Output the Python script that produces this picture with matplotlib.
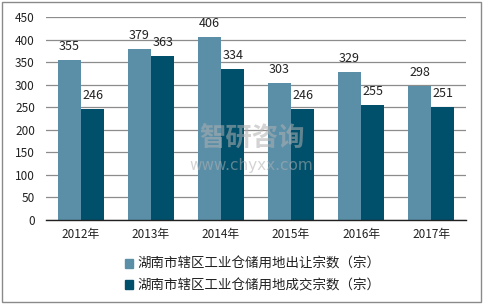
import matplotlib
matplotlib.use("Agg")
import matplotlib.pyplot as plt
from matplotlib.patches import Rectangle
import numpy as np

plt.rcParams['font.family'] = ['Noto Sans CJK SC', 'DejaVu Sans']

years = ['2012年', '2013年', '2014年', '2015年', '2016年', '2017年']
transfer = [355, 379, 406, 303, 329, 298]
deal = [246, 363, 334, 246, 255, 251]
series_names = ['湖南市辖区工业仓储用地出让宗数（宗）', '湖南市辖区工业仓储用地成交宗数（宗）']
c_light = '#5B8FA8'
c_dark = '#00506B'

fig = plt.figure(figsize=(4.84, 3.06), dpi=100)
ax = fig.add_axes([0.095, 0.281, 0.868, 0.663])

x = np.arange(len(years))
w = 0.333
b1 = ax.bar(x - w/2, transfer, w, color=c_light, zorder=3)
b2 = ax.bar(x + w/2, deal, w, color=c_dark, zorder=3)
for rect, v in zip(b1, transfer):
    ax.annotate(str(v), (rect.get_x() + rect.get_width()/2, v), xytext=(0, 5),
                textcoords='offset points', ha='center', va='bottom', fontsize=9, color='#222222', zorder=5)
for rect, v in zip(b2, deal):
    ax.annotate(str(v), (rect.get_x() + rect.get_width()/2, v), xytext=(0, 5),
                textcoords='offset points', ha='center', va='bottom', fontsize=9, color='#222222', zorder=5)

ax.set_xlim(-0.5, len(years) - 0.5)
ax.set_ylim(0, 450)
ax.set_yticks(np.arange(0, 451, 50))
ax.set_xticks(x)
ax.set_xticklabels(years)
ax.tick_params(axis='both', length=0, labelsize=8.5, colors='#222222')
ax.tick_params(axis='x', pad=6)
ax.tick_params(axis='y', pad=8)
ax.grid(axis='y', color='#8c8c8c', linewidth=0.9, zorder=0)
for s in ['top', 'right', 'left']:
    ax.spines[s].set_visible(False)
ax.spines['bottom'].set_color('#222222')
ax.spines['bottom'].set_linewidth(1.0)
ax.spines['bottom'].set_zorder(4)

# watermark
fig.text(0.52, 0.545, '智研咨询', fontsize=19, color='#b0b0b0', alpha=0.55, ha='center', va='center', fontweight='bold')
fig.text(0.52, 0.458, 'www.chyxx.com', fontsize=11, color='#b0b0b0', alpha=0.55, ha='center', va='center', family='DejaVu Sans')

# legend
handles = [Rectangle((0, 0), 1, 1, color=c_light), Rectangle((0, 0), 1, 1, color=c_dark)]
fig.legend(handles, series_names, loc='upper left', bbox_to_anchor=(0.258, 0.16), frameon=False,
           fontsize=9.7, handlelength=0.6, handleheight=0.6, handletextpad=0.3, labelspacing=0.55,
           labelcolor='#222222', borderaxespad=0, borderpad=0)

# outer border
fig.patches.append(Rectangle((0.004, 0.012), 0.99, 0.982, transform=fig.transFigure,
                             fill=False, edgecolor='#8a8a8a', linewidth=1.0))

fig.savefig('out.png', dpi=100)
